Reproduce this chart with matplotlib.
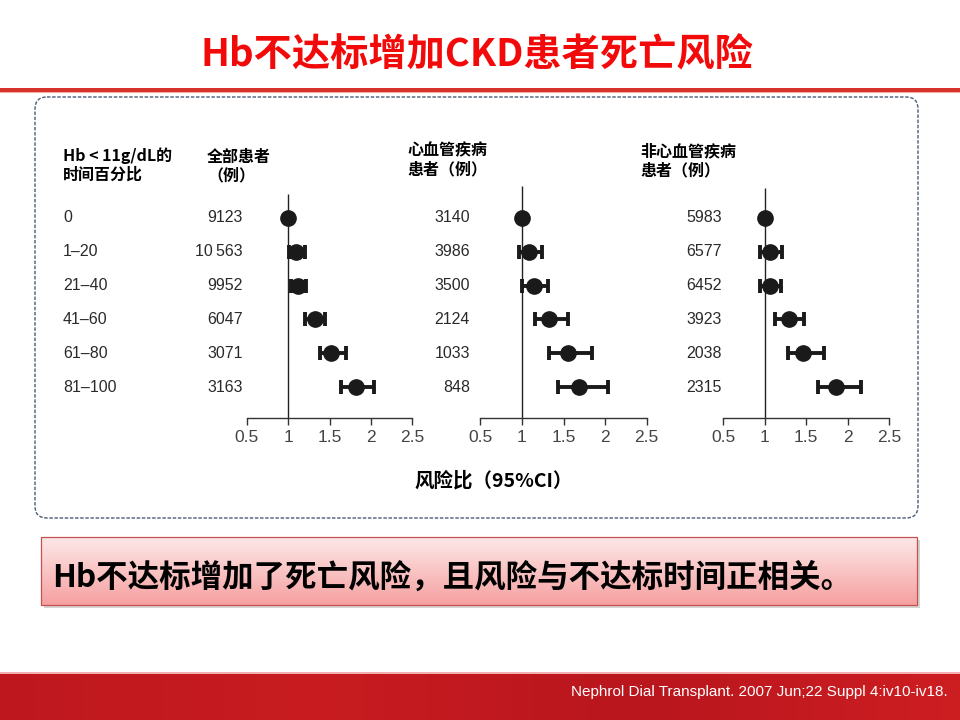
import numpy as np
import matplotlib
matplotlib.use("Agg")
import matplotlib.pyplot as plt
from matplotlib.patches import FancyBboxPatch, Rectangle
from matplotlib import font_manager

plt.rcParams['font.family'] = ['Noto Sans CJK SC', 'DejaVu Sans']

# ---------------- data ----------------
groups = ['0', '1–20', '21–40', '41–60', '61–80', '81–100']

n_all = ['9123', '10\u2009563', '9952', '6047', '3071', '3163']
hr_all = [1.00, 1.10, 1.12, 1.32, 1.52, 1.82]
lo_all = [np.nan, 1.01, 1.03, 1.21, 1.38, 1.64]
hi_all = [np.nan, 1.21, 1.22, 1.45, 1.70, 2.04]

n_cvd = ['3140', '3986', '3500', '2124', '1033', '848']
hr_cvd = [1.00, 1.08, 1.15, 1.33, 1.56, 1.69]
lo_cvd = [np.nan, 0.97, 1.00, 1.16, 1.33, 1.43]
hi_cvd = [np.nan, 1.24, 1.31, 1.55, 1.84, 2.03]

n_non = ['5983', '6577', '6452', '3923', '2038', '2315']
hr_non = [1.00, 1.07, 1.07, 1.29, 1.46, 1.86]
lo_non = [np.nan, 0.94, 0.94, 1.13, 1.28, 1.64]
hi_non = [np.nan, 1.21, 1.20, 1.48, 1.72, 2.16]

x_ticks = [0.5, 1, 1.5, 2, 2.5]
x_ticklabels = ['0.5', '1', '1.5', '2', '2.5']

title = 'Hb不达标增加CKD患者死亡风险'
col0_header = 'Hb < 11g/dL的\n时间百分比'
headers = ['全部患者\n（例）', '心血管疾病\n患者（例）', '非心血管疾病\n患者（例）']
xlabel = '风险比（95%CI）'
conclusion = 'Hb不达标增加了死亡风险，且风险与不达标时间正相关。'
citation = 'Nephrol Dial Transplant. 2007 Jun;22 Suppl 4:iv10-iv18.'

# ---------------- fonts ----------------
installed = {f.name for f in font_manager.fontManager.ttflist}
narrow = ['Liberation Sans Narrow', 'Liberation Sans', 'DejaVu Sans']
narrow = [f for f in narrow if f in installed] or ['DejaVu Sans']

W, H = 960, 720
fig = plt.figure(figsize=(9.6, 7.2), dpi=100)
fig.patch.set_facecolor('white')

# overlay in pixel coordinates
ov = fig.add_axes([0, 0, 1, 1], zorder=0)
ov.set_xlim(0, W)
ov.set_ylim(H, 0)
ov.axis('off')

# title
ov.text(477, 55, title, ha='center', va='center', fontsize=27.5,
        fontweight='bold', color='#f20a0a')
# red rule
ov.add_patch(Rectangle((0, 88), W, 3.5, facecolor='#d8332d', edgecolor='none'))
ov.add_patch(Rectangle((0, 91.5), W, 1.2, facecolor='#f0a8a0', edgecolor='none'))

# dashed rounded frame
ov.add_patch(FancyBboxPatch((35, 97), 883, 421,
                            boxstyle='round,pad=0,rounding_size=12',
                            facecolor='none', edgecolor='#4a5a78',
                            linewidth=1.0, linestyle=(0, (2.5, 1.2))))

# conclusion box: shadow, gradient, border
ov.add_patch(Rectangle((44, 540), 876, 68, facecolor='#b8b8b8',
                       edgecolor='none', alpha=0.6))
top = np.array([253, 232, 232]) / 255
bot = np.array([246, 160, 160]) / 255
t = np.linspace(0, 1, 64)[:, None, None]
grad = top * (1 - t) + bot * t
ov.imshow(grad, extent=[41, 917, 605, 537], origin='upper', aspect='auto',
          interpolation='bicubic', zorder=1)
ov.add_patch(Rectangle((41, 537), 876, 68, facecolor='none',
                       edgecolor='#c55050', linewidth=0.9, zorder=2))
ov.text(52, 578, conclusion, ha='left', va='center', fontsize=22.7,
        fontweight='heavy', color='black', zorder=3)

# footer band
cols = np.array([[190, 24, 30], [200, 28, 32], [185, 22, 30], [205, 30, 34]]) / 255
xx = np.linspace(0, 1, 200)
band = np.zeros((1, 200, 3))
for c in range(3):
    band[0, :, c] = np.interp(xx, np.linspace(0, 1, 4), cols[:, c])
ov.imshow(band, extent=[0, W, 720, 673], origin='upper', aspect='auto',
          interpolation='bicubic', zorder=1)
ov.add_patch(Rectangle((0, 672), W, 1.5, facecolor='#f2b0b0', edgecolor='none', zorder=2))
ov.text(948, 692, citation, ha='right', va='center', fontsize=11,
        family=narrow, color='white', zorder=3)
ov.set_xlim(0, W)
ov.set_ylim(H, 0)

# headers
ov.text(63, 165, col0_header, ha='left', va='center', fontsize=11.5,
        fontweight='bold', color='black', linespacing=1.2,
        family=['Noto Sans CJK SC', 'DejaVu Sans'])
header_pos = [(207, 166), (407, 160), (640, 161)]
for (hx, hy), htxt in zip(header_pos, headers):
    ov.text(hx, hy, htxt, ha='left', va='center', fontsize=11.5,
            fontweight='bold', color='black', linespacing=1.2)

ov.text(494, 481, xlabel, ha='center', va='center', fontsize=14,
        fontweight='bold', color='black')

# ---------------- forest panels ----------------
row_top_px, row_step = 218, 33.8
ax_top_px, ax_bot_px = 180, 418
i_top = (ax_top_px - row_top_px) / row_step
i_bot = (ax_bot_px - row_top_px) / row_step

panels = [
    dict(l=246.7, r=412.3, vtop=194, cnt_x=243, n=n_all, hr=hr_all, lo=lo_all, hi=hi_all),
    dict(l=480.3, r=646.7, vtop=186, cnt_x=470, n=n_cvd, hr=hr_cvd, lo=lo_cvd, hi=hi_cvd),
    dict(l=723.0, r=889.0, vtop=188, cnt_x=721.7, n=n_non, hr=hr_non, lo=lo_non, hi=hi_non),
]

rows = np.arange(len(groups))
for k, p in enumerate(panels):
    wpx = p['r'] - p['l']
    ax = fig.add_axes([p['l'] / W, (H - ax_bot_px) / H, wpx / W,
                       (ax_bot_px - ax_top_px) / H], zorder=2)
    ax.patch.set_alpha(0)
    ax.set_xlim(0.5, 2.5)
    ax.set_ylim(i_bot, i_top)
    for s in ['top', 'right', 'left']:
        ax.spines[s].set_visible(False)
    ax.spines['bottom'].set_color('#333333')
    ax.spines['bottom'].set_linewidth(1.0)
    ax.set_yticks([])
    ax.set_xticks(x_ticks)
    ax.set_xticklabels(x_ticklabels, family=narrow, fontsize=12.5, color='#444444')
    ax.tick_params(axis='x', direction='out', length=5, width=1.0,
                   color='#333333', pad=4)
    ax.vlines(1, (p['vtop'] - row_top_px) / row_step, i_bot, color='#222222',
              linewidth=1.0)
    hr = np.array(p['hr'])
    lo = np.array(p['lo'])
    hi = np.array(p['hi'])
    ok = ~np.isnan(lo)
    ax.errorbar(hr[ok], rows[ok], xerr=[hr[ok] - lo[ok], hi[ok] - hr[ok]],
                fmt='none', ecolor='#1a1a1a', elinewidth=2.8, capsize=5,
                capthick=2.8, zorder=3)
    ax.plot(hr, rows, 'o', color='#1a1a1a', markersize=11, zorder=4,
            linestyle='none')
    # counts
    fx = (p['cnt_x'] - p['l']) / wpx
    for r, txt in zip(rows, p['n']):
        ax.text(fx, r, txt, transform=ax.get_yaxis_transform(), ha='right',
                va='center', fontsize=11.5, family=narrow, color='#2a2a2a')
    if k == 0:
        gx = (63 - p['l']) / wpx
        for r, g in zip(rows, groups):
            ax.text(gx, r, g, transform=ax.get_yaxis_transform(), ha='left',
                    va='center', fontsize=11.5, family=narrow, color='#2a2a2a')

fig.savefig('out.png', dpi=100, facecolor='white')
